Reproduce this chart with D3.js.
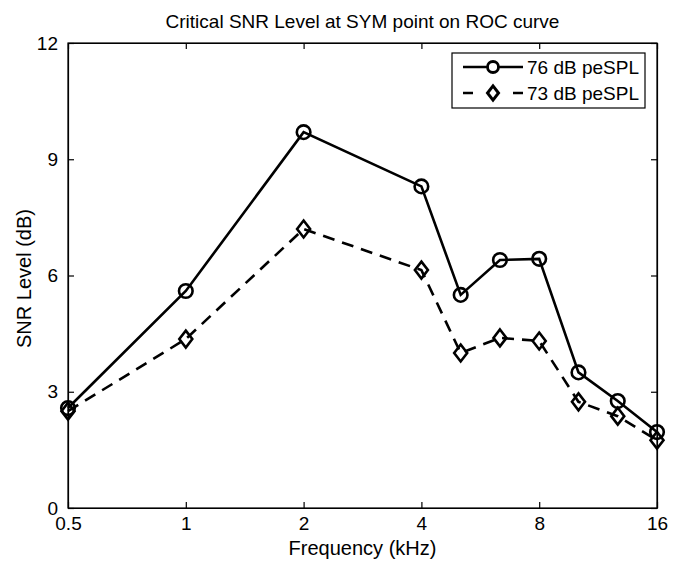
<!DOCTYPE html>
<html>
<head>
<meta charset="utf-8">
<script src="https://cdn.jsdelivr.net/npm/d3@7"></script>
<style>
  body { margin: 0; background: #fff; }
  text { font-family: "Liberation Sans", Arial, sans-serif; fill: #000; }
</style>
</head>
<body>
<div id="chart"></div>
<script>
// frequencies (kHz) and critical SNR levels (dB)
const freqs = [0.5, 1, 2, 4, 5.04, 6.35, 8, 10.08, 12.7, 16];
const snr76 = [2.58, 5.6, 9.7, 8.3, 5.5, 6.4, 6.43, 3.5, 2.76, 1.96];
const snr73 = [2.5, 4.36, 7.2, 6.14, 4.0, 4.39, 4.31, 2.74, 2.37, 1.75];
const xTicks = [0.5, 1, 2, 4, 8, 16];
const yTicks = [0, 3, 6, 9, 12];

const W = 678, H = 563;
const margin = {top: 43, right: 21, bottom: 55, left: 68},
    width = W - margin.left - margin.right,
    height = H - margin.top - margin.bottom;

const svg = d3.select("#chart").append("svg")
    .attr("width", W)
    .attr("height", H);

const g = svg.append("g")
    .attr("transform", `translate(${margin.left},${margin.top})`);

const x = d3.scaleLog().base(2).domain([0.5, 16]).range([0, width]);
const y = d3.scaleLinear().domain([0, 12]).range([height, 0]);

const tickLen = 6;

// bottom axis (ticks point inward)
g.append("g")
    .attr("transform", `translate(0,${height})`)
    .call(d3.axisBottom(x).tickValues(xTicks).tickSizeInner(-tickLen).tickSizeOuter(0)
      .tickPadding(9).tickFormat(d => d))
    .call(a => a.selectAll("text").style("font-size", "19px"));

// top axis
g.append("g")
    .call(d3.axisTop(x).tickValues(xTicks).tickSizeInner(-tickLen).tickSizeOuter(0).tickFormat(""));

// left axis
g.append("g")
    .call(d3.axisLeft(y).tickValues(yTicks).tickSizeInner(-tickLen).tickSizeOuter(0)
      .tickPadding(10))
    .call(a => a.selectAll("text").style("font-size", "19px"));

// right axis
g.append("g")
    .attr("transform", `translate(${width},0)`)
    .call(d3.axisRight(y).tickValues(yTicks).tickSizeInner(-tickLen).tickSizeOuter(0).tickFormat(""));

g.selectAll(".domain, .tick line").attr("stroke", "#000").attr("stroke-width", 1.2);

// box edges
g.append("rect")
    .attr("width", width).attr("height", height)
    .attr("fill", "none").attr("stroke", "#000").attr("stroke-width", 1.2);

const line = d3.line()
    .x(d => x(d[0]))
    .y(d => y(d[1]));

const pts76 = freqs.map((f, i) => [f, snr76[i]]);
const pts73 = freqs.map((f, i) => [f, snr73[i]]);

const diamond = (r) => `M0,${-r * 1.3}L${r},0L0,${r * 1.3}L${-r},0Z`;

// 73 dB dashed line with diamonds
g.append("path")
    .datum(pts73)
    .attr("d", line)
    .attr("fill", "none")
    .attr("stroke", "#000")
    .attr("stroke-width", 2.6)
    .attr("stroke-dasharray", "12,8");

g.selectAll(".dia")
    .data(pts73)
    .enter().append("path")
    .attr("class", "dia")
    .attr("transform", d => `translate(${x(d[0])},${y(d[1])})`)
    .attr("d", diamond(6.5))
    .attr("fill", "none")
    .attr("stroke", "#000")
    .attr("stroke-width", 2.6);

// 76 dB solid line with circles
g.append("path")
    .datum(pts76)
    .attr("d", line)
    .attr("fill", "none")
    .attr("stroke", "#000")
    .attr("stroke-width", 2.6);

g.selectAll(".circ")
    .data(pts76)
    .enter().append("circle")
    .attr("class", "circ")
    .attr("cx", d => x(d[0]))
    .attr("cy", d => y(d[1]))
    .attr("r", 6.8)
    .attr("fill", "none")
    .attr("stroke", "#000")
    .attr("stroke-width", 2.6);

// title and axis labels
svg.append("text")
    .attr("x", margin.left + width / 2)
    .attr("y", 28)
    .attr("text-anchor", "middle")
    .style("font-size", "19px")
    .text("Critical SNR Level at SYM point on ROC curve");

svg.append("text")
    .attr("x", margin.left + width / 2)
    .attr("y", 555)
    .attr("text-anchor", "middle")
    .style("font-size", "20px")
    .text("Frequency (kHz)");

svg.append("text")
    .attr("transform", `translate(31,${margin.top + height / 2 + 3}) rotate(-90)`)
    .attr("text-anchor", "middle")
    .style("font-size", "20px")
    .text("SNR Level (dB)");

// legend
const leg = svg.append("g").attr("transform", "translate(452,53)");
leg.append("rect")
    .attr("width", 193).attr("height", 55)
    .attr("fill", "#fff").attr("stroke", "#000").attr("stroke-width", 1.2);

const rows = [
  {label: "76 dB peSPL", dash: null, marker: "circle"},
  {label: "73 dB peSPL", dash: "10,40", marker: "diamond"}
];
rows.forEach((r, i) => {
  const ry = 14 + i * 26;
  leg.append("line")
      .attr("x1", 11).attr("x2", 71).attr("y1", ry).attr("y2", ry)
      .attr("stroke", "#000").attr("stroke-width", 2.6)
      .attr("stroke-dasharray", r.dash);
  if (r.marker === "circle") {
    leg.append("circle").attr("cx", 41).attr("cy", ry).attr("r", 5.5)
        .attr("fill", "#fff").attr("stroke", "#000").attr("stroke-width", 2.8);
  } else {
    leg.append("path").attr("transform", `translate(41,${ry})`).attr("d", diamond(5.5))
        .attr("fill", "#fff").attr("stroke", "#000").attr("stroke-width", 3);
  }
  leg.append("text")
      .attr("x", 75).attr("y", ry + 7)
      .style("font-size", "19px")
      .text(r.label);
});
</script>
</body>
</html>
